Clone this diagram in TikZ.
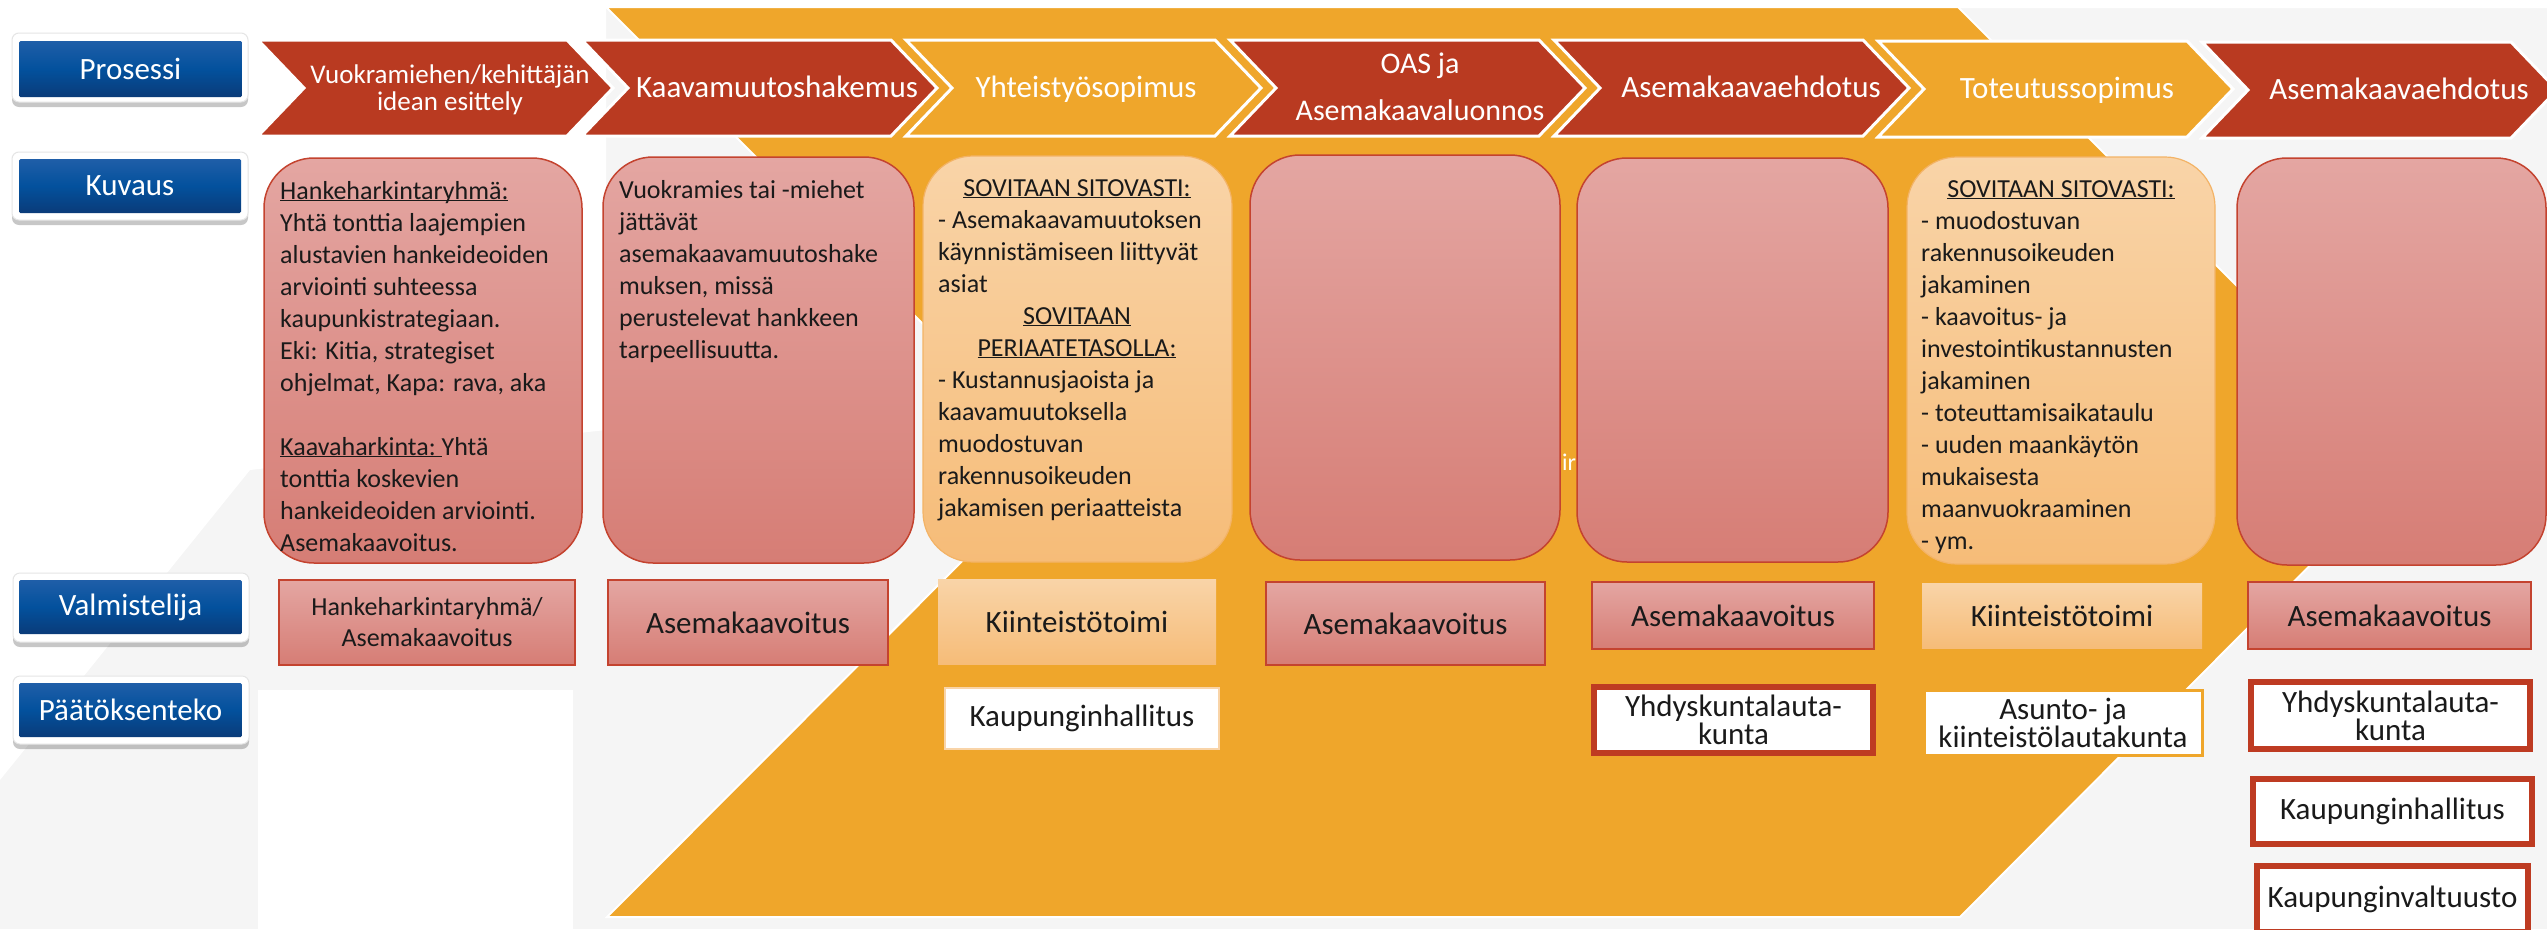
\documentclass[tikz,border=0pt]{standalone}
\usepackage{fontspec}
\setmainfont{Carlito}
\usetikzlibrary{shadows}
\definecolor{chevred}{HTML}{B93A21}
\definecolor{chevorg}{HTML}{EFA62B}
\definecolor{descRT}{HTML}{E4A6A2}
\definecolor{descRB}{HTML}{D67D75}
\definecolor{descRD}{HTML}{C4432F}
\definecolor{descOT}{HTML}{F9D4A8}
\definecolor{descOB}{HTML}{F6BC78}
\definecolor{descOD}{HTML}{F3B366}
\definecolor{blueT}{HTML}{1F5EA8}
\definecolor{blueM}{HTML}{03519D}
\definecolor{blueB}{HTML}{0A3B79}
\definecolor{bggray}{HTML}{F5F5F5}
\definecolor{txt}{HTML}{1A1A1A}
\definecolor{decred}{HTML}{BE3B22}
\newcommand\myrule[1]{\rule{0pt}{#1}}
\newcommand\myul[1]{\underline{\smash{#1}}}
% style, name, x1, y1, x2, y2, text
\newcommand\rbox[7]{\node[#1, minimum width={(#5)-(#3)}, minimum height={(#6)-(#4)}]
  (#2) at ({((#3)+(#5))/2},{((#4)+(#6))/2}) {#7};}
\begin{document}
\begin{tikzpicture}[x=1pt,y=-1pt,
  chevR/.style={fill=chevred, draw=white, line width=3pt},
  chevO/.style={fill=chevorg, draw=white, line width=3pt},
  chevtxt/.style={text=white, inner sep=0, align=center, font=\fontsize{31}{31}\selectfont},
  lblframe/.style={fill=white, rounded corners=7pt, draw=black!10, line width=1pt,
     drop shadow={shadow xshift=0pt, shadow yshift=-5pt, fill=black, opacity=0.22}, inner sep=0},
  lblblue/.style={rounded corners=1.5pt, top color=blueT, bottom color=blueB, middle color=blueM,
     inner sep=0, text=white, font=\fontsize{31}{31}\selectfont},
  descR/.style={rounded corners=50pt, top color=descRT, bottom color=descRB, draw=descRD, line width=1.5pt, inner sep=0},
  descO/.style={rounded corners=50pt, top color=descOT, bottom color=descOB, draw=descOD, line width=1.2pt, inner sep=0},
  desctxt/.style={anchor=north west, inner sep=0, align=left, text=txt, font=\fontsize{26}{32}\selectfont},
  deschead/.style={anchor=base, inner sep=0, text=txt, font=\fontsize{26}{32}\selectfont},
  valR/.style={top color=descRT, bottom color=descRB, draw=descRD, line width=1.5pt, inner sep=0,
     text=txt, align=center, font=\fontsize{31}{31}\selectfont},
  valO/.style={top color=descOT, bottom color=descOB, inner sep=0,
     text=txt, align=center, font=\fontsize{31}{31}\selectfont},
  decW/.style={fill=white, draw=descOT, line width=1.5pt, inner sep=0, text=txt, align=center,
     font=\fontsize{31}{28}\selectfont},
  decO/.style={fill=white, draw=chevorg, line width=3pt, inner sep=0, text=txt, align=center,
     font=\fontsize{31}{28}\selectfont},
  decR/.style={fill=white, draw=decred, line width=6pt, inner sep=0, text=txt, align=center,
     font=\fontsize{31}{28}\selectfont},
]
\useasboundingbox (0,0) rectangle (2547,929);
\clip (0,0) rectangle (2547,929);
% background
\fill[bggray] (0,0) rectangle (2547,929);
\fill[white] (0,0) -- (2547,0) -- (2547,8) -- (606,8) -- (606,430) -- (250,470) -- (0,780) -- cycle;
\fill[white] (258,690) rectangle (573,929);
% big orange chevron
\filldraw[fill=chevorg, draw=white, line width=2pt]
  (606,7) -- (1958,7) -- (2413,462) -- (1960,917) -- (607,917) -- (1061,462) -- cycle;
\node[text=white, font=\fontsize{24}{24}\selectfont, anchor=base west, inner sep=0] (hid) at (1562,470) {ir};
% process chevrons
\filldraw[chevR] (258,40) -- ++(309,0) -- ++(46,48) -- ++(-46,48) -- ++(-309,0) -- ++(46,-48) -- cycle;
\filldraw[chevR] (582,40) -- ++(309,0) -- ++(46,48) -- ++(-46,48) -- ++(-309,0) -- ++(46,-48) -- cycle;
\filldraw[chevO] (906,40) -- ++(309,0) -- ++(46,48) -- ++(-46,48) -- ++(-309,0) -- ++(46,-48) -- cycle;
\filldraw[chevR] (1230,40) -- ++(309,0) -- ++(46,48) -- ++(-46,48) -- ++(-309,0) -- ++(46,-48) -- cycle;
\filldraw[chevR] (1554,40) -- ++(309,0) -- ++(46,48) -- ++(-46,48) -- ++(-309,0) -- ++(46,-48) -- cycle;
\filldraw[chevO] (1878,41) -- ++(309,0) -- ++(46,48) -- ++(-46,48) -- ++(-309,0) -- ++(46,-48) -- cycle;
\filldraw[chevR] (2202,42) -- ++(309,0) -- ++(46,48) -- ++(-46,48) -- ++(-309,0) -- ++(46,-48) -- cycle;
\node[chevtxt, anchor=north, font=\fontsize{27}{27}\selectfont] (c1) at (450,61) {\myrule{22pt}Vuokramiehen/kehittäjän\\idean esittely};
\node[chevtxt, anchor=base] (c2) at (777,97) {Kaavamuutoshakemus};
\node[chevtxt, anchor=base] (c3) at (1086,97) {Yhteistyösopimus};
\node[chevtxt, anchor=north, font=\fontsize{30}{47}\selectfont] (c4) at (1420,49) {\myrule{24pt}OAS ja\\Asemakaavaluonnos};
\node[chevtxt, anchor=base] (c5) at (1751,97) {Asemakaavaehdotus};
\node[chevtxt, anchor=base] (c6) at (2067,98) {Toteutussopimus};
\node[chevtxt, anchor=base] (c7) at (2399,99) {Asemakaavaehdotus};
% row labels
\rbox{lblframe}{f1}{12}{33}{248}{102}{}
\rbox{lblblue}{l1}{19}{41}{242}{97}{Prosessi}
\rbox{lblframe}{f2}{12}{152}{248}{220}{}
\rbox{lblblue}{l2}{19}{159}{241}{213}{Kuvaus}
\rbox{lblframe}{f3}{13}{573}{249}{642}{}
\rbox{lblblue}{l3}{19}{580}{242}{634}{Valmistelija}
\rbox{lblframe}{f4}{13}{676}{249}{744}{}
\rbox{lblblue}{l4}{19}{683}{242}{737}{Päätöksenteko}
% description boxes
\rbox{descR}{d1}{264}{158}{582}{563}{}
\rbox{descR}{d2}{603}{157}{914}{563}{}
\rbox{descO}{d3}{923}{156}{1232}{562}{}
\rbox{descR}{d4}{1250}{155}{1560}{560}{}
\rbox{descR}{d5}{1577}{158}{1888}{562}{}
\rbox{descO}{d6}{1907}{157}{2215}{564}{}
\rbox{descR}{d7}{2237}{158}{2546}{565}{}
\node[desctxt] (t1) at (280,175) {\myrule{24pt}\myul{Hankeharkintaryhmä:}\\
Yhtä tonttia laajempien\\alustavien hankeideoiden\\arviointi suhteessa\\kaupunkistrategiaan.\\
Eki: Kitia, strategiset\\ohjelmat, Kapa: rava, aka\\\mbox{}\\
\myul{Kaavaharkinta:\ }Yhtä\\tonttia koskevien\\hankeideoiden arviointi.\\Asemakaavoitus.};
\node[desctxt] (t2) at (619,174) {\myrule{24pt}Vuokramies tai -miehet\\jättävät\\asemakaavamuutoshake\\muksen, missä\\perustelevat hankkeen\\tarpeellisuutta.};
\node[desctxt] (t3) at (938,172) {\myrule{24pt}\mbox{}\\- Asemakaavamuutoksen\\käynnistämiseen liittyvät\\asiat\\\mbox{}\\\mbox{}\\
- Kustannusjaoista ja\\kaavamuutoksella\\muodostuvan\\rakennusoikeuden\\jakamisen periaatteista};
\node[deschead] (h3a) at (1077,196) {\myul{SOVITAAN SITOVASTI:}};
\node[deschead] (h3b) at (1077,324) {\myul{SOVITAAN}};
\node[deschead] (h3c) at (1077,356) {\myul{PERIAATETASOLLA:}};
\node[desctxt] (t6) at (1921,173) {\myrule{24pt}\mbox{}\\- muodostuvan\\rakennusoikeuden\\jakaminen\\- kaavoitus- ja\\investointikustannusten\\jakaminen\\
- toteuttamisaikataulu\\- uuden maankäytön\\mukaisesta\\maanvuokraaminen\\- ym.};
\node[deschead] (h6a) at (2061,197) {\myul{SOVITAAN SITOVASTI:}};
% preparer row
\rbox{valR, font=\fontsize{26}{31}\selectfont}{v1}{279}{580}{575}{665}{Hankeharkintaryhmä/\\Asemakaavoitus}
\rbox{valR}{v2}{608}{580}{888}{665}{Asemakaavoitus}
\rbox{valO}{v3}{938}{579}{1216}{664}{Kiinteistötoimi}
\rbox{valR}{v4}{1266}{582}{1545}{665}{Asemakaavoitus}
\rbox{valR}{v5}{1592}{582}{1874}{649}{Asemakaavoitus}
\rbox{valO}{v6}{1922}{583}{2202}{648}{Kiinteistötoimi}
\rbox{valR}{v7}{2248}{582}{2531}{649}{Asemakaavoitus}
% decision row
\rbox{decW}{p3}{945}{688}{1219}{749}{Kaupunginhallitus}
\rbox{decR}{p5}{1594}{687}{1873}{753}{Yhdyskuntalauta-\\kunta}
\rbox{decO}{p6}{1924}{690}{2202}{755}{Asunto- ja\\kiinteistölautakunta}
\rbox{decR}{p7a}{2251}{682}{2530}{749}{Yhdyskuntalauta-\\kunta}
\rbox{decR}{p7b}{2253}{779}{2532}{844}{Kaupunginhallitus}
\rbox{decR}{p7c}{2257}{866}{2528}{932}{Kaupunginvaltuusto}
\end{tikzpicture}
\end{document}
